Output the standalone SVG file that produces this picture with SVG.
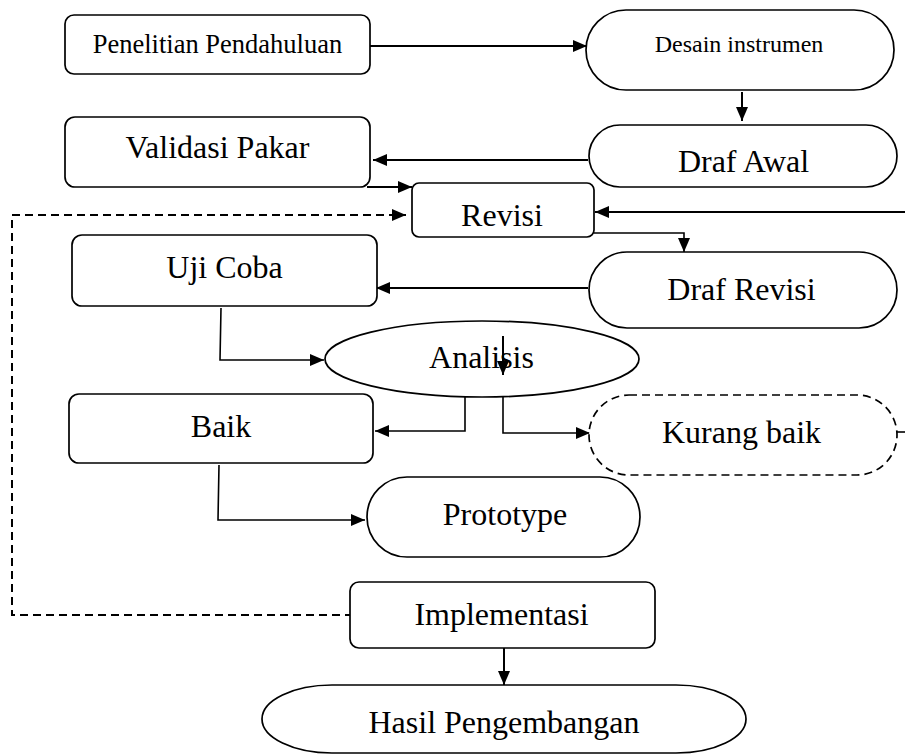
<svg xmlns="http://www.w3.org/2000/svg" width="905" height="755" viewBox="0 0 905 755">
<style>
.box{fill:#fff;stroke:#000;stroke-width:1.7}
.dash{stroke-dasharray:8 5}
.t{font-family:"Liberation Serif","Times New Roman",serif;fill:#000;text-anchor:middle}
.s{font-size:26.5px}
.m{font-size:24px}
.b{font-size:32px}
.c{fill:none;stroke:#000;stroke-width:2}
</style>
<defs>
<marker id="ah" markerUnits="userSpaceOnUse" markerWidth="14" markerHeight="12" refX="14" refY="6" orient="auto">
<path d="M0,0 L14,6 L0,12 z" fill="#000"/>
</marker>
</defs>
<g id="connectors">
<path class="c" d="M370,46 H587" marker-end="url(#ah)"/>
<path class="c" d="M742,92 V121" marker-end="url(#ah)"/>
<path class="c" d="M588,160 H373" marker-end="url(#ah)"/>
<path class="c" d="M367,187 H412" marker-end="url(#ah)"/>
<path class="c dash" d="M353,615 H12 V215 H406" marker-end="url(#ah)"/>
<path class="c" d="M905,212 H595" marker-end="url(#ah)"/>
<path class="c" style="stroke-width:1.6" d="M594,233 H684 V252" marker-end="url(#ah)"/>
<path class="c" d="M588,288 H376" marker-end="url(#ah)"/>
<path class="c" style="stroke-width:1.6" d="M221,308 L220,360 H324" marker-end="url(#ah)"/>
<path class="c" style="stroke-width:1.6" d="M465,397 V431 H375" marker-end="url(#ah)"/>
<path class="c" style="stroke-width:1.6" d="M503,397 V433 H590" marker-end="url(#ah)"/>
<path class="c" style="stroke-width:1.6" d="M219,465 L218,520 H365" marker-end="url(#ah)"/>
<path class="c" d="M504,646 V685" marker-end="url(#ah)"/>
<path class="c dash" style="stroke-width:1.6" d="M897,432 H905"/>
</g>
<g id="penelitian">
<rect class="box" x="65" y="15" width="305" height="59" rx="9"/>
<text class="t s" x="217.5" y="53">Penelitian Pendahuluan</text>
</g>
<g id="desain">
<rect class="box" x="586" y="10" width="308" height="80" rx="40"/>
<text class="t m" x="739" y="52">Desain instrumen</text>
</g>
<g id="validasi">
<rect class="box" x="65" y="117" width="305" height="70" rx="10"/>
<text class="t b" x="217.5" y="158">Validasi Pakar</text>
</g>
<g id="drafawal">
<rect class="box" x="589" y="125" width="308" height="62" rx="31"/>
<text class="t b" x="743.5" y="172">Draf Awal</text>
</g>
<g id="revisi">
<rect class="box" x="412" y="183" width="182" height="54" rx="7"/>
<text class="t b" x="502" y="226">Revisi</text>
</g>
<g id="drafrevisi">
<rect class="box" x="589" y="252" width="308" height="76" rx="38"/>
<text class="t b" x="741.5" y="300">Draf Revisi</text>
</g>
<g id="ujicoba">
<rect class="box" x="72" y="235" width="305" height="71" rx="10"/>
<text class="t b" x="224.5" y="278">Uji Coba</text>
</g>
<g id="analisis">
<ellipse class="box" cx="482" cy="359" rx="157" ry="38"/>
<text class="t b" x="481.5" y="368">Analisis</text>
</g>
<g id="baik">
<rect class="box" x="69" y="394" width="304" height="69" rx="10"/>
<text class="t b" x="221" y="437">Baik</text>
</g>
<g id="kurangbaik">
<rect class="box dash" x="589" y="395" width="308" height="80" rx="40"/>
<text class="t b" x="741.5" y="443">Kurang baik</text>
</g>
<g id="prototype">
<rect class="box" x="367" y="477" width="273" height="80" rx="40"/>
<text class="t b" x="505" y="525">Prototype</text>
</g>
<g id="implementasi">
<rect class="box" x="350" y="582" width="305" height="66" rx="9"/>
<text class="t b" x="501.5" y="625">Implementasi</text>
</g>
<g id="hasil">
<rect class="box" x="262" y="685" width="484" height="68" rx="70" ry="34"/>
<text class="t b" x="504" y="733">Hasil Pengembangan</text>
</g>
<path class="c" d="M503,336 V375" marker-end="url(#ah)"/>
</svg>
